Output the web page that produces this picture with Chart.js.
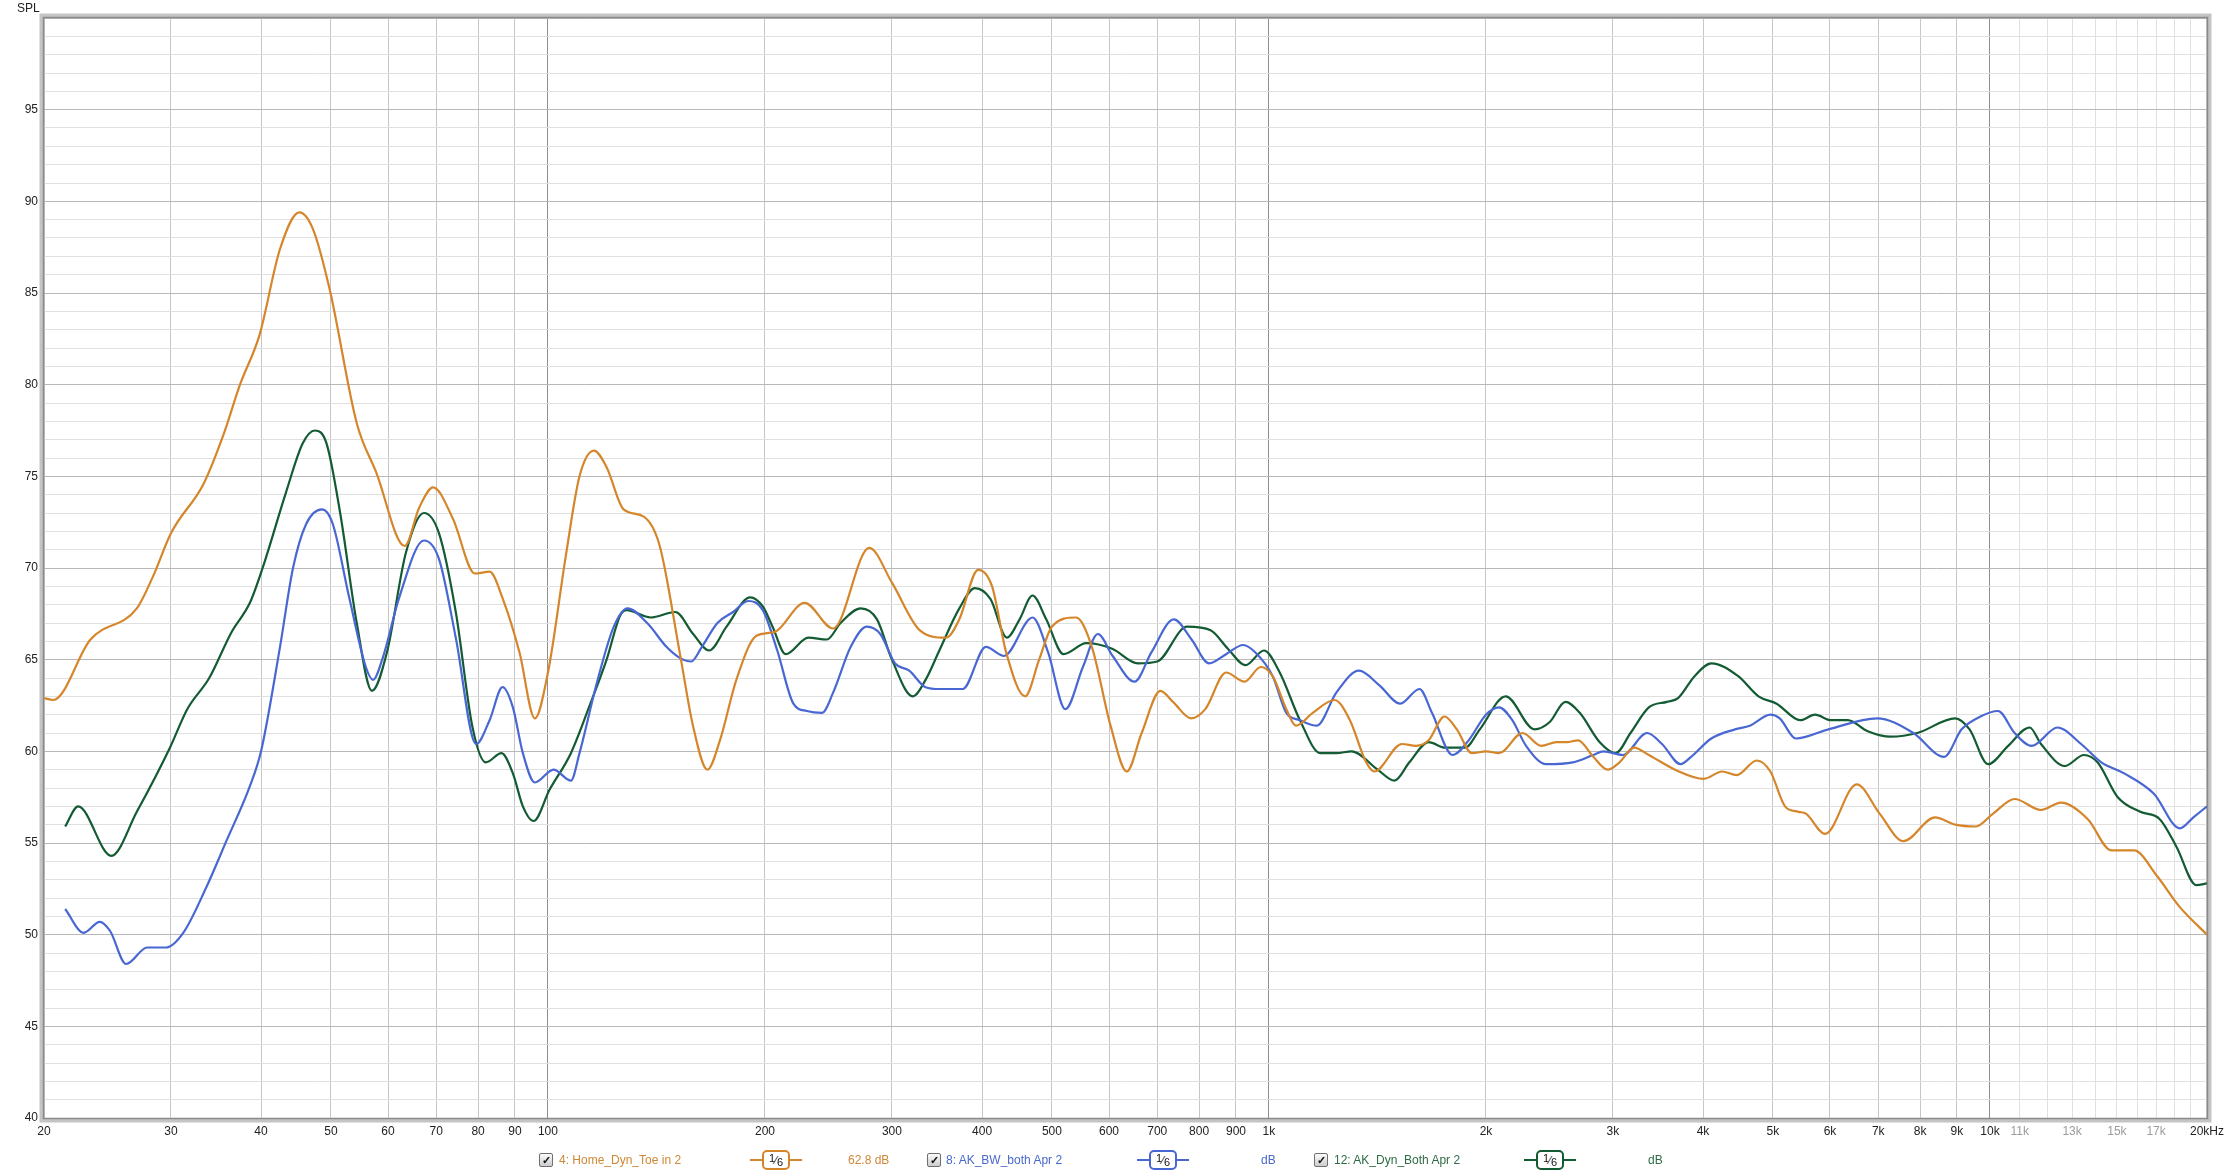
<!DOCTYPE html>
<html>
<head>
<meta charset="utf-8">
<script src="https://cdn.jsdelivr.net/npm/chart.js@4"></script>
<style>
  body { margin: 0; background: #fff; }
  #wrap { position: relative; width: 2230px; height: 1176px; font-family: 'Liberation Sans', Arial, sans-serif; }
  .txt { position: absolute; font-size: 12px; line-height: 14px; white-space: nowrap; }
  .chk { position: absolute; width: 12px; height: 12px; border: 1px solid #6f6f6f; border-radius: 2px;
         background: linear-gradient(#fbfbfb, #cdcdcd); font-size: 11px; font-weight: bold; line-height: 12px;
         text-align: center; color: #111; }
  .sym { position: absolute; width: 52px; height: 20px; }
  .sym .ln { position: absolute; top: 9px; height: 2px; width: 52px; left: 0; }
  .sym .box { position: absolute; left: 12px; top: 0; width: 24px; height: 16px; border: 2px solid; border-radius: 5px;
              background: #fff; font-size: 11px; line-height: 16px; text-align: center; color: #111; }
  .sym .box span { position: relative; }
</style>
</head>
<body>
<div id="wrap">
  <canvas id="chart" width="2230" height="1176"></canvas>
  <div class="txt" style="left:17px; top:1px; color:#222;">SPL</div>
  <div id="legend"></div>
</div>
<script>
// tick labels on the frequency axis
const xTickValues = [20, 30, 40, 50, 60, 70, 80, 90, 100, 200, 300, 400, 500, 600, 700, 800, 900,
  1000, 2000, 3000, 4000, 5000, 6000, 7000, 8000, 9000, 10000,
  11000, 12000, 13000, 14000, 15000, 16000, 17000, 18000, 19000, 20000];
const xTickLabels = ['20', '30', '40', '50', '60', '70', '80', '90', '100', '200', '300', '400', '500', '600', '700', '800', '900',
  '1k', '2k', '3k', '4k', '5k', '6k', '7k', '8k', '9k', '10k',
  '11k', '', '13k', '', '15k', '', '17k', '', '', '20kHz'];

// 4: Home_Dyn_Toe in 2
const homeFreq = [20, 20.6, 23.2, 26.9, 28.3, 30, 33.3, 35.5, 37.4, 39.8, 42.5, 45.2, 47.2, 49.8, 54.3, 57.8, 63.3, 66.3, 69.3, 73.8,
  79.2, 83, 86.6, 91.3, 95.9, 100, 106, 110.6, 115.8, 120.6, 127.3, 135.8, 142.9, 152.3, 158.9, 166.4, 173.2, 182.5, 194.6,
  206, 227, 248.6, 279, 300, 328, 356.6, 372, 395, 413, 432, 459, 480, 500, 540, 568, 603, 635, 666, 707, 736, 780, 816,
  872, 925, 974, 1012, 1057, 1090, 1150, 1233, 1295, 1364, 1400, 1529, 1600, 1665, 1752, 1822, 1912, 2000, 2085, 2248,
  2386, 2505, 2587, 2684, 2817, 2950, 3064, 3209, 3364, 3659, 4011, 4250, 4454, 4748, 4960, 5197, 5425, 5556, 5907,
  6535, 7030, 7586, 8390, 8950, 9556, 10100, 10820, 11770, 12540, 13670, 14730, 15840, 17050, 18340, 20000];
const homeDb = [62.9, 62.8, 66.1, 67.8, 69.5, 71.9, 74.6, 77.3, 80.0, 82.7, 87.4, 89.4, 88.5, 85.2, 77.9, 75.2, 71.2, 73.3, 74.4, 72.7,
  69.7, 69.8, 68.3, 65.4, 61.8, 64.3, 70.8, 75.0, 76.4, 75.5, 73.2, 72.8, 71.2, 65.4, 61.4, 59.0, 60.6, 63.9, 66.3,
  66.5, 68.1, 66.7, 71.1, 69.2, 66.6, 66.2, 67.2, 69.9, 69.0, 65.4, 63.0, 65.0, 66.8, 67.3, 65.7, 61.4, 58.9, 61.0, 63.3, 62.7, 61.8, 62.3,
  64.3, 63.8, 64.6, 64.1, 62.3, 61.4, 62.1, 62.8, 61.7, 59.4, 58.9, 60.4, 60.3, 60.6, 61.9, 61.2, 59.9, 60.0, 59.9, 61.0,
  60.3, 60.5, 60.5, 60.6, 59.7, 59.0, 59.4, 60.2, 59.8, 59.0, 58.5, 58.9, 58.7, 59.5, 58.9, 57.0, 56.7, 56.6, 55.5,
  58.2, 56.6, 55.1, 56.4, 56.0, 55.9, 56.6, 57.4, 56.8, 57.2, 56.3, 54.6, 54.6, 53.2, 51.5, 50.0];

// 8: AK_BW_both Apr 2
const bwFreq = [21.4, 22.7, 23.9, 24.7, 26.0, 27.8, 29.5, 31.2, 33.6, 35.8, 38.6, 40, 42.5, 44.3, 46.2, 48.6, 50.3, 53.0, 55.9, 57.2,
  59.0, 62.2, 67.3, 70.6, 74.5, 79.5, 83, 86.5, 89.4, 92.3, 95.9, 101.8, 107.6, 110.6, 117.2, 123.4, 128.9, 137.3, 146, 152.3,
  158, 163.5, 171.8, 180.6, 189.6, 198.6, 208, 219, 228.6, 240, 248.6, 263, 276.8, 289, 303, 317, 334, 349, 376, 405, 429,
  470, 494, 522, 552, 579, 607, 651, 687, 738, 781, 826, 872, 921, 957, 1012, 1057, 1104, 1165, 1240, 1333, 1423, 1521,
  1617, 1683, 1797, 1892, 2000, 2085, 2175, 2273, 2424, 2640, 2817, 2910, 3098, 3345, 3509, 3723, 3850, 4107, 4430, 4645,
  4960, 5110, 5380, 5970, 6977, 7830, 8640, 9135, 9700, 10260, 10820, 11420, 12410, 13380, 14270, 15350, 16870, 18340, 19150, 20000];
const bwDb = [51.4, 50.1, 50.7, 50.2, 48.4, 49.3, 49.3, 50.1, 52.6, 55.1, 58.1, 60.0, 65.7, 70.0, 72.4, 73.2, 72.4, 68.4, 64.6, 63.9,
  65.1, 68.4, 71.5, 70.5, 66.2, 60.4, 61.7, 63.5, 62.4, 59.9, 58.3, 59.0, 58.4, 59.9, 63.9, 66.8, 67.8, 67.0, 65.7, 65.1,
  64.9, 65.7, 67.0, 67.6, 68.2, 67.7, 65.5, 62.6, 62.2, 62.1, 63.2, 65.7, 66.8, 66.4, 64.8, 64.4, 63.5, 63.4, 63.4, 65.7, 65.2,
  67.3, 65.4, 62.3, 64.6, 66.4, 65.2, 63.8, 65.4, 67.2, 66.1, 64.8, 65.3, 65.8, 65.4, 64.1, 62.1, 61.7, 61.4, 63.2, 64.4, 63.6, 62.6,
  63.4, 62.1, 59.8, 60.6, 62.0, 62.4, 61.7, 60.3, 59.3, 59.4, 59.8, 60.0, 59.8, 61.0, 60.4, 59.3, 59.7, 60.7, 61.2, 61.4,
  62.0, 61.8, 60.7, 61.2, 61.8, 61.0, 59.7, 61.2, 61.9, 62.2, 61.0, 60.3, 61.3, 60.4, 59.4, 58.8, 57.7, 55.8, 56.4, 57.0];

// 12: AK_Dyn_Both Apr 2
const dynFreq = [21.4, 22.3, 24.8, 26.9, 29.9, 31.6, 33.9, 36.4, 38.6, 40.2, 43.3, 45.7, 47.5, 49.3, 51.5, 54.3, 57.0, 59.8, 63.5, 67.3,
  70.6, 74.5, 78.6, 82, 86.2, 89.4, 92.3, 95.5, 100.5, 107.6, 114.5, 120.6, 125.9, 128.6, 138.8, 150.2, 159, 167.3, 176.9, 190.8,
  198.6, 204.9, 213.6, 229.7, 243.7, 254.6, 271.5, 286, 300, 320.6, 334, 349, 372, 391, 411, 433, 451, 470, 491, 519, 558,
  606, 658, 700, 770, 830, 877, 928, 984, 1035, 1104, 1178, 1240, 1302, 1415, 1493, 1566, 1665, 1757, 1870, 1961, 2130,
  2335, 2452, 2577, 2698, 2876, 3025, 3173, 3364, 3565, 3693, 3893, 4107, 4475, 4775, 5060, 5455, 5720, 6022, 6350, 6768,
  7280, 7930, 8950, 9370, 9940, 10600, 11350, 11770, 12700, 13500, 14100, 15040, 16160, 17200, 18140, 19330, 20000];
const dynDb = [55.9, 57.0, 54.3, 56.7, 60.2, 62.3, 64.0, 66.5, 68.1, 70.0, 74.1, 76.8, 77.5, 76.8, 73.0, 67.0, 63.3, 65.4, 70.8, 73.0,
  71.9, 67.6, 61.3, 59.4, 59.9, 58.8, 57.0, 56.2, 57.9, 59.9, 62.6, 65.0, 67.4, 67.7, 67.3, 67.6, 66.4, 65.5, 66.8, 68.4,
  67.9, 66.8, 65.3, 66.2, 66.1, 67.0, 67.8, 67.2, 65.0, 63.0, 63.9, 65.5, 67.8, 68.9, 68.3, 66.2, 67.2, 68.5, 67.2, 65.3, 65.9,
  65.6, 64.8, 64.9, 66.8, 66.6, 65.6, 64.7, 65.5, 64.3, 61.7, 59.9, 59.9, 60.0, 59.0, 58.4, 59.4, 60.5, 60.2, 60.2, 61.2, 63.0,
  61.2, 61.6, 62.7, 62.1, 60.5, 59.9, 61.0, 62.4, 62.7, 62.9, 64.1, 64.8, 64.1, 63.0, 62.6, 61.7, 62.0, 61.7, 61.7, 61.1,
  60.8, 61.0, 61.8, 61.2, 59.3, 60.3, 61.3, 60.4, 59.2, 59.8, 59.4, 57.5, 56.7, 56.3, 54.8, 52.7, 52.8];

const orange = '#d5862b';
const blue = '#4967d3';
const green = '#135b33';

function points(freq, db) {
  return freq.map((f, i) => ({ x: f, y: db[i] }));
}

function series(label, freq, db, color) {
  return {
    label: label,
    data: points(freq, db),
    borderColor: color,
    borderWidth: 2.2,
    pointRadius: 0,
    fill: false,
    cubicInterpolationMode: 'monotone'
  };
}

// grey frame round the plot area
const framePlugin = {
  id: 'frame',
  afterDraw(chart) {
    const { ctx, chartArea: a } = chart;
    ctx.save();
    ctx.strokeStyle = '#c4c4c4';
    ctx.lineWidth = 4;
    ctx.strokeRect(a.left - 2.5, a.top - 2.5, a.right - a.left + 5, a.bottom - a.top + 5);
    ctx.strokeStyle = '#8a8a8a';
    ctx.lineWidth = 1.5;
    ctx.strokeRect(a.left - 0.5, a.top - 0.5, a.right - a.left + 1, a.bottom - a.top + 1);
    ctx.restore();
  }
};

const tickFont = { family: "'Liberation Sans', Arial, sans-serif", size: 12 };

new Chart(document.getElementById('chart'), {
  type: 'line',
  data: {
    datasets: [
      series('4: Home_Dyn_Toe in 2', homeFreq, homeDb, orange),
      series('8: AK_BW_both Apr 2', bwFreq, bwDb, blue),
      series('12: AK_Dyn_Both Apr 2', dynFreq, dynDb, green)
    ]
  },
  options: {
    responsive: false,
    animation: false,
    layout: { padding: { left: 0, top: 18, right: 22, bottom: 0 } },
    plugins: { legend: { display: false }, tooltip: { enabled: false } },
    scales: {
      x: {
        type: 'logarithmic',
        min: 20,
        max: 20000,
        afterBuildTicks: (axis) => { axis.ticks = xTickValues.map(v => ({ value: v })); },
        afterFit: (axis) => { axis.height = 58; },
        border: { display: false },
        grid: {
          drawTicks: false,
          lineWidth: 1,
          color: (c) => {
            const v = c.tick ? c.tick.value : 0;
            if (v === 100 || v === 1000 || v === 10000) return '#8e8e8e';
            if (v > 10000 && v < 20000) return '#e0e0e0';
            return '#c6c6c6';
          }
        },
        ticks: {
          autoSkip: false,
          maxRotation: 0,
          minRotation: 0,
          padding: 6,
          font: tickFont,
          color: (c) => (c.tick && c.tick.value > 10000 && c.tick.value < 20000) ? '#9c9c9c' : '#222',
          callback: (value, index) => xTickLabels[index]
        }
      },
      y: {
        min: 40,
        max: 100,
        afterFit: (axis) => { axis.width = 44; },
        border: { display: false },
        grid: {
          drawTicks: false,
          color: (c) => (c.tick && c.tick.value % 5 === 0) ? '#b8b8b8' : '#e0e0e0'
        },
        ticks: {
          stepSize: 1,
          maxTicksLimit: 100,
          autoSkip: false,
          padding: 6,
          font: tickFont,
          color: '#222',
          callback: (v) => (v % 5 === 0 && v < 100) ? String(v) : ''
        }
      }
    }
  },
  plugins: [framePlugin]
});

// legend row under the chart
const legendItems = [
  { chk: 539, text: '4: Home_Dyn_Toe in 2', tx: 559, sym: 776, val: '62.8 dB', vx: 848, color: orange, textColor: '#d08735' },
  { chk: 927, text: '8: AK_BW_both Apr 2', tx: 946, sym: 1163, val: 'dB', vx: 1261, color: blue, textColor: '#4a68cc' },
  { chk: 1314, text: '12: AK_Dyn_Both Apr 2', tx: 1334, sym: 1550, val: 'dB', vx: 1648, color: green, textColor: '#2e6b45' }
];
const legend = document.getElementById('legend');
legendItems.forEach(it => {
  legend.insertAdjacentHTML('beforeend',
    `<div class="chk" style="left:${it.chk}px; top:1153px;">✓</div>` +
    `<div class="txt" style="left:${it.tx}px; top:1153px; color:${it.textColor};">${it.text}</div>` +
    `<div class="sym" style="left:${it.sym - 26}px; top:1150px;">` +
      `<div class="ln" style="background:${it.color};"></div>` +
      `<div class="box" style="border-color:${it.color};"><span style="top:-2px">1</span>⁄<span style="top:2px">6</span></div>` +
    `</div>` +
    `<div class="txt" style="left:${it.vx}px; top:1153px; color:${it.textColor};">${it.val}</div>`);
});
</script>
</body>
</html>
